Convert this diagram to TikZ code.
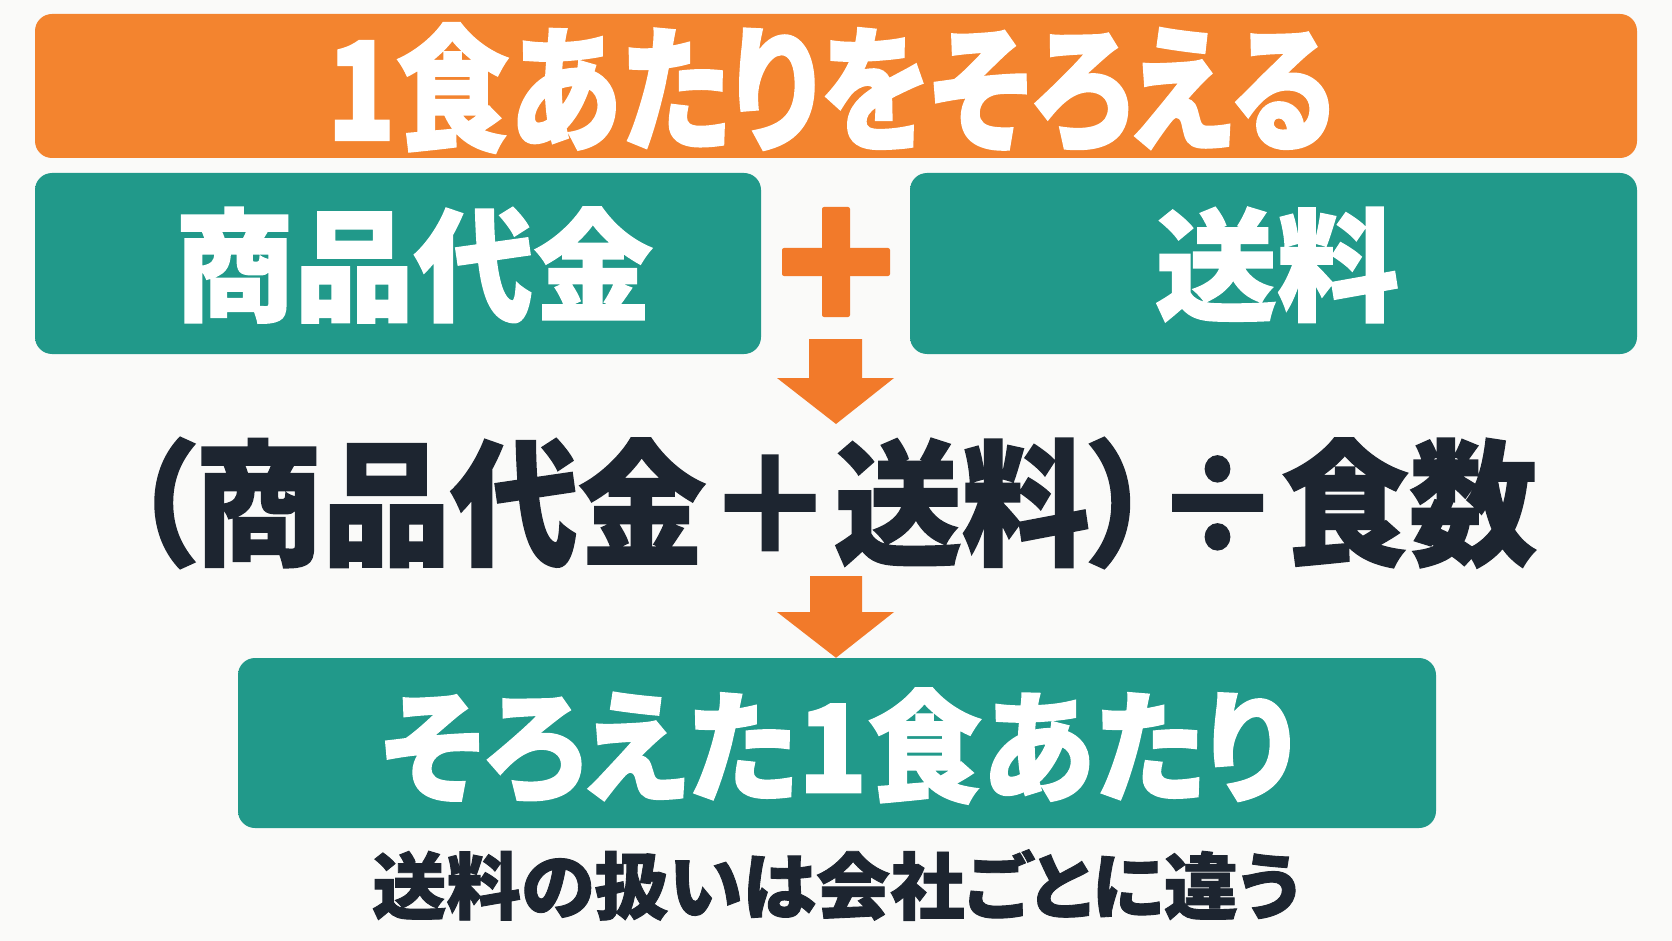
\documentclass[tikz,border=0pt]{standalone}
\usepackage{graphicx}
\usepackage{fontspec}
\newfontfamily\jpbb[RawFeature=+palt,FakeBold=1.2]{Noto Sans CJK JP Black}
\usetikzlibrary{calc}
\definecolor{bg}{HTML}{FAFAF9}
\definecolor{orgm}{HTML}{F27A2A}
\definecolor{orgd}{HTML}{EC6616}
\definecolor{orgl}{HTML}{F3842F}
\definecolor{teald}{HTML}{0B8275}
\definecolor{teall}{HTML}{21998A}
\definecolor{ink}{HTML}{1D2530}
\begin{document}
\begin{tikzpicture}[x=1pt,y=-1pt,
  panel/.style={rounded corners=17pt, inner sep=0pt, draw=none},
  orangepanel/.style={panel, left color=orgl, middle color=orgd, right color=orgl},
  tealpanel/.style={panel, left color=teall, middle color=teald, right color=teall},
  wtext/.style={text=white, inner sep=0pt},
  ktext/.style={text=ink, inner sep=0pt},
  blockarrow/.style={fill=orgm, draw=none}
]
\useasboundingbox (0,0) rectangle (1672,941);
\fill[bg] (0,0) rectangle (1672,941);

% panels
\node[orangepanel, minimum width=1602pt, minimum height=144pt] (top) at (836,86) {};
\node[tealpanel, minimum width=726pt, minimum height=181pt] (price) at (398,263.5) {};
\node[tealpanel, minimum width=727pt, minimum height=181pt] (ship) at (1273.5,263.5) {};
\node[tealpanel, minimum width=1198pt, minimum height=170pt] (result) at (837,743) {};

% white texts
\node[wtext, font=\jpbb\fontsize{137}{137}\selectfont] (toptxt) at (831,88) {\scalebox{0.83}[1]{1食あたりをそろえる}};
\node[wtext, font=\jpbb\fontsize{122}{122}\selectfont] (pricetxt) at (414,265) {\scalebox{0.98}[1]{商品代金}};
\node[wtext, font=\jpbb\fontsize{122}{122}\selectfont] (shiptxt) at (1277,265) {送料};
\node[wtext, font=\jpbb\fontsize{122}{122}\selectfont] (restxt) at (838,746) {\scalebox{0.94}[1]{そろえた1食あたり}};

% dark texts
\node[ktext, font=\jpbb\fontsize{136}{136}\selectfont] (formula) at (834,503) {\scalebox{0.94}[1]{（商品代金＋送料）÷食数}};
\node[ktext, font=\jpbb\fontsize{73}{73}\selectfont] (note) at (836,885) {\scalebox{1.02}[1]{送料の扱いは会社ごとに違う}};

% plus sign
\coordinate (plus) at (836,262);
\fill[orgm, rounded corners=2pt] ($(plus)+(-14,-55)$) rectangle ($(plus)+(14,55)$);
\fill[orgm, rounded corners=2pt] ($(plus)+(-54,-14)$) rectangle ($(plus)+(54,14)$);

% arrow 1: from panels row to formula
\coordinate (a1) at (836,339);
\coordinate (a1tip) at (836,424);
\fill[blockarrow] ($(a1)+(-27,0)$) -- ($(a1)+(26,0)$) -- ($(a1)+(26,39)$) -- ($(a1)+(58,39)$)
  -- (a1tip) -- ($(a1)+(-59,39)$) -- ($(a1)+(-27,39)$) -- cycle;

% arrow 2: from formula to result
\coordinate (a2) at (836,576);
\coordinate (a2tip) at (result.north);
\fill[blockarrow] ($(a2)+(-26,0)$) -- ($(a2)+(26,0)$) -- ($(a2)+(26,36)$) -- ($(a2)+(58,36)$)
  -- (a2tip -| a2) -- ($(a2)+(-59,36)$) -- ($(a2)+(-26,36)$) -- cycle;
\end{tikzpicture}
\end{document}
